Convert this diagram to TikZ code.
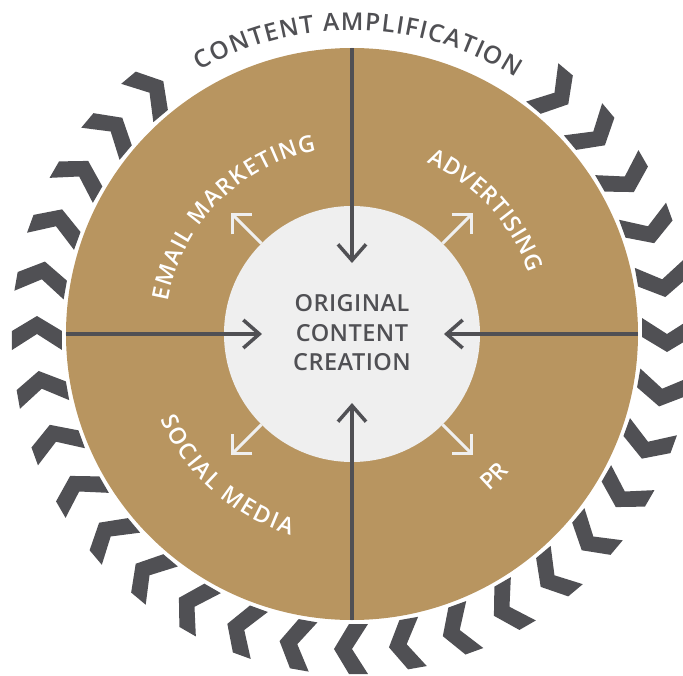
\documentclass[tikz,border=0pt]{standalone}
\usepackage{fontspec}
\setmainfont{Open Sans}[UprightFont={* Semibold}]
\usepackage{tikz}
\usetikzlibrary{arrows.meta, decorations.text}
\definecolor{ringbrown}{RGB}{184, 149, 96}
\definecolor{chevgrey}{RGB}{80, 80, 84}
\definecolor{coregrey}{RGB}{239, 239, 239}

\begin{document}
\begin{tikzpicture}[
    x=1pt, y=1pt,
    inward/.style={
        draw=chevgrey, line width=3.5pt, -{Straight Barb[length=16pt, width=28pt]}
    },
    outward/.style={
        draw=coregrey, line width=3pt, -{Straight Barb[length=14pt, width=28pt]}
    },
    curved/.style={
        decorate, decoration={text along path, text color=white,
        text={|\fontsize{23}{23}\selectfont|#1}}
    },
    sector/.style={curved=#1, decoration={text align=fit to path}},
    banner/.style={
        decorate, decoration={text along path, text color=chevgrey,
        text align=fit to path, text={|\fontsize{24.5}{24.5}\selectfont|#1}}
    }
]
\useasboundingbox (-352,-341) rectangle (331,334);

% Chevron ring, running clockwise
\foreach \a in {130,140,...,410} {
    \fill[chevgrey, shift={(\a:315)}, rotate=\a-90]
        (18,0) -- (3,25) -- (-16,25) -- (0,0) -- (-16,-25) -- (3,-25) -- cycle;
}

% Outer disc and core
\node[circle, fill=ringbrown, minimum size=572pt, inner sep=0pt, outer sep=0pt] (ring) at (0,0) {};
\node[circle, fill=coregrey, minimum size=256pt, inner sep=0pt, outer sep=0pt] (core) at (0,0) {};
\node[align=center, text=chevgrey,
      font=\fontsize{23.5}{29.5}\selectfont\addfontfeatures{LetterSpace=2}] (creation) at (0,1)
    {ORIGINAL\\CONTENT\\CREATION};

% Dividers pointing into the core
\coordinate (tipN) at (0,71);
\coordinate (tipS) at (0,-69);
\coordinate (tipW) at (-90,0);
\coordinate (tipE) at (92,0);
\draw[inward] (ring.north) -- (tipN);
\draw[inward] (ring.south) -- (tipS);
\draw[inward] (ring.west) -- (tipW);
\draw[inward] (ring.east) -- (tipE);

% Arrows out of the core
\foreach \d in {45,135,225,315} {
    \coordinate (out\d) at (\d:171);
    \draw[outward] (core.\d) -- (out\d);
}

% Curved labels
\path[banner=CONTENT AMPLIFICATION] (120:304) arc[start angle=120, end angle=57.5, radius=304];
\path[sector=EMAIL MARKETING] (170:187) arc[start angle=170, end angle=101, radius=187];
\path[sector=ADVERTISING] (66.5:187) arc[start angle=66.5, end angle=19, radius=187];
\path[sector=SOCIAL MEDIA] (204:210) arc[start angle=204, end angle=253, radius=210];
\path[curved=PR, decoration={text align=center}] (-75:209) arc[start angle=-75, end angle=-15, radius=209];

\end{tikzpicture}
\end{document}
